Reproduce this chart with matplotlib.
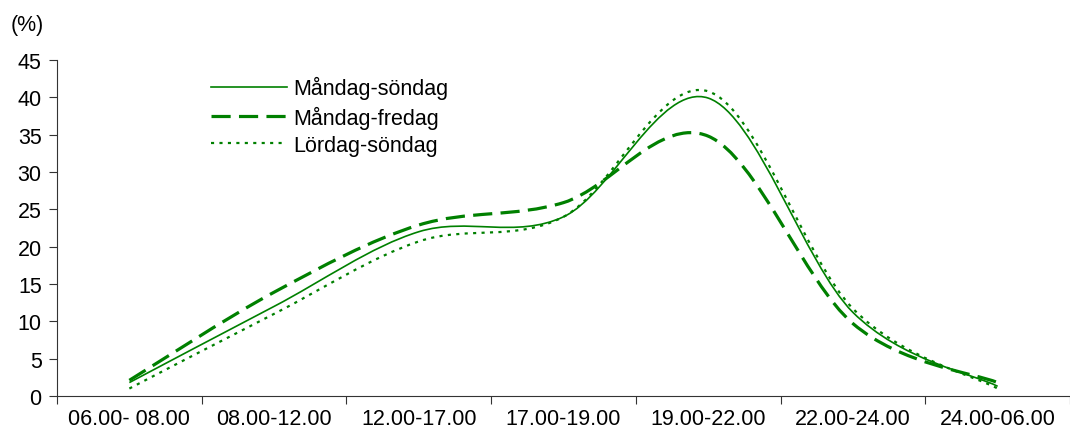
import numpy as np
import matplotlib
matplotlib.use("Agg")
import matplotlib.pyplot as plt
from matplotlib.path import Path
from matplotlib.patches import PathPatch
from matplotlib.lines import Line2D

plt.rcParams['font.family'] = ['Liberation Sans', 'DejaVu Sans']

# time slots
categories = ["06.00- 08.00", "08.00-12.00", "12.00-17.00", "17.00-19.00",
              "19.00-22.00", "22.00-24.00", "24.00-06.00"]
# share in percent
man_son = [1.8, 12.0, 22.0, 24.0, 39.9, 11.2, 1.3]
man_fre = [2.1, 13.9, 22.9, 25.9, 34.8, 9.7, 1.8]
lor_son = [1.0, 11.0, 20.7, 24.0, 40.8, 11.7, 1.0]
labels = ["Måndag-söndag", "Måndag-fredag", "Lördag-söndag"]

green = "#008000"
fs = 15.5
styles = [dict(lw=1.2, ls="-"),
          dict(lw=2.3, ls=(0, (6, 2.6))),
          dict(lw=1.6, ls=(0, (1.4, 2.4)))]


def smooth_path(x, y):
    # excel style smoothed line: bezier with control points from neighbours
    p = np.column_stack([x, y])
    n = len(p)
    verts = [p[0]]
    codes = [Path.MOVETO]
    for i in range(n - 1):
        p0 = p[i - 1] if i > 0 else p[i]
        p3 = p[i + 2] if i + 2 < n else p[i + 1]
        c1 = p[i] + (p[i + 1] - p0) / 6
        c2 = p[i + 1] - (p3 - p[i]) / 6
        verts += [c1, c2, p[i + 1]]
        codes += [Path.CURVE4] * 3
    return Path(verts, codes)


fig = plt.figure(figsize=(10.7, 4.39), dpi=100)
ax = fig.add_axes([57 / 1070, 1 - 397 / 439, 1 - 57 / 1070, (397 - 61) / 439])

x = np.arange(len(categories)) + 0.5
handles = []
for vals, st, lab in zip([man_son, man_fre, lor_son], styles, labels):
    ax.add_patch(PathPatch(smooth_path(x, vals), fill=False, edgecolor=green,
                           linewidth=st["lw"], linestyle=st["ls"]))
    handles.append(Line2D([], [], color=green, linewidth=st["lw"], linestyle=st["ls"]))

ax.set_xlim(0, 7)
ax.set_ylim(0, 45)
ax.set_yticks(range(0, 46, 5))
ax.set_xticks(range(0, 8))
ax.set_xticklabels([])
ax.set_xticks(x, minor=True)
ax.set_xticklabels(categories, minor=True)
ax.tick_params(axis="x", which="minor", length=0, pad=9, labelsize=fs)
ax.tick_params(axis="x", which="major", length=6, direction="out", color="#333333")
ax.tick_params(axis="y", length=6, direction="out", labelsize=fs, pad=5, color="#333333")
for s in ["top", "right"]:
    ax.spines[s].set_visible(False)
for s in ["left", "bottom"]:
    ax.spines[s].set_color("#333333")
    ax.spines[s].set_clip_on(False)

fig.text(11 / 1070, 1 - 26 / 439, "(%)", fontsize=fs, va="center", ha="left")

ax.legend(handles, labels, loc="upper left", bbox_to_anchor=(192 / 1070, 1 - 58 / 439),
          bbox_transform=fig.transFigure, frameon=False, fontsize=fs,
          handlelength=3.5, handletextpad=0.3, labelspacing=0.28)

fig.savefig("out.png", dpi=100)
